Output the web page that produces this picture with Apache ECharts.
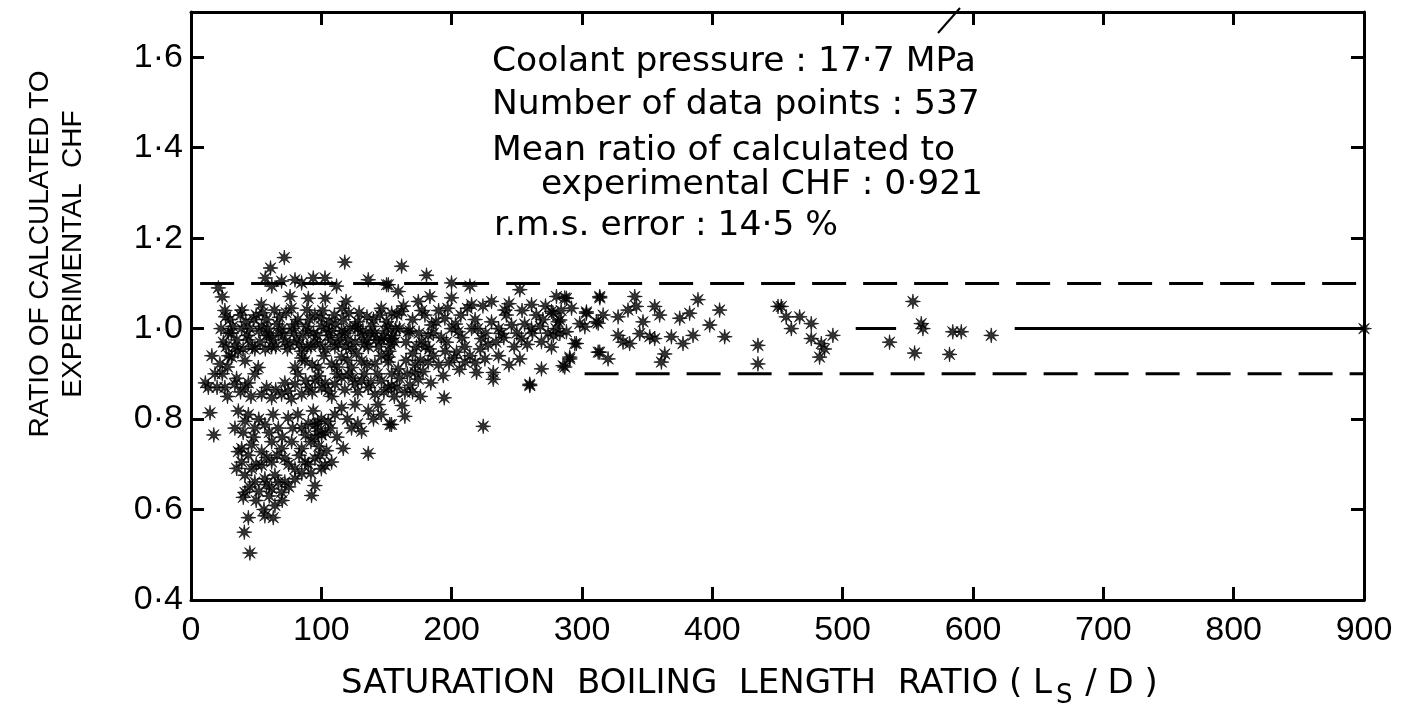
<!DOCTYPE html>
<html>
<head>
<meta charset="utf-8">
<script src="https://cdn.jsdelivr.net/npm/echarts@6/dist/echarts.min.js"></script>
<style>html,body{margin:0;padding:0;background:#fff;}#c{width:1405px;height:711px;}</style>
</head>
<body>
<div id="c"></div>
<script>
// ---- data (Ls/D, ratio calculated/experimental CHF) ----
const xTicks = [0,100,200,300,400,500,600,700,800,900];
const yTicks = [0.4,0.6,0.8,1.0,1.2,1.4,1.6];

const topEdgePoints = [[71.6,1.157],[61,1.134],[118,1.147],[21,1.09],[24,1.07],[57,1.112],[62,1.094],[69.5,1.105],[79.8,1.108],[84.9,1.101],[93.8,1.112],[102.8,1.112],[111.7,1.094],[136,1.108],[150,1.097],[103,1.067],[76,1.071],[90,1.067],[119,1.06],[26.6,1.026],[39,1.041],[54,1.053],[64,1.041],[77,1.045],[89,1.041],[100,1.023],[110,1.03],[121,1.034],[135,1.026],[146,1.045],[154,1.034]];

const bandPoints = [[24.8,0.97],[28.6,0.99],[33.7,0.96],[38.9,1.0],[44,0.975],[49,0.955],[54.2,1.005],[58,0.985],[61.9,0.96],[67,0.99],[72,0.97],[77.2,1.0],[81,0.975],[84.9,0.95],[90,0.995],[95.1,0.97],[100.2,1.005],[105.3,0.985],[110.4,0.96],[115.5,0.995],[120.6,0.975],[125.8,1.005],[130.9,0.985],[136,0.96],[141.1,0.99],[146.2,0.975],[151.3,1.005],[155.2,0.985],
[27,0.96],[31,0.99],[36,0.95],[43,0.985],[47,0.96],[52,0.995],[57,0.955],[60,0.985],[65,0.96],[70,1.0],[74,0.955],[79,0.99],[83,0.965],[88,1.005],[92,0.96],[97,0.985],[103,0.955],[108,0.995],[113,0.965],[118,0.99],[123,0.955],[128,1.0],[133,0.965],[138,0.99],[144,0.96],[149,0.995],[153,0.965],[157,1.0],
[30,1.02],[42,1.015],[50,1.03],[58,1.02],[68,1.025],[82,1.02],[95,1.03],[106,1.015],[117,1.02],[128,1.015],[140,1.02],[150,1.015],[158,1.03],
[23,1.0],[26,1.04],[29,0.94],[32,1.005],[35,0.975],[38,1.03],[40,0.955],[45,1.0],[48,1.02],[53,0.97],[55,1.035],[59,1.0],[63,0.975],[66,1.01],[71,0.985],[73,1.035],[76,0.965],[80,1.01],[86,0.985],[89,0.96],[91,1.02],[94,0.99],[99,0.965],[101,1.04],[104,1.0],[107,0.975],[111,1.01],[114,0.98],[116,1.045],[119,0.96],[122,1.0],[126,0.97],[129,1.035],[132,0.995],[135,0.975],[139,1.005],[142,0.975],[145,1.03],[148,0.98],[152,0.95],[156,0.97]];

const midPoints = [[22.2,0.922],[18.4,0.9],[13.3,0.87],[26,0.87],[33.7,0.877],[41.4,0.87],[49,0.9],[54.2,0.855],[61.9,0.847],[69.5,0.855],[74.6,0.862],[79.8,0.877],[84.9,0.855],[90,0.87],[95.1,0.885],[100.2,0.87],[105.3,0.862],[110.4,0.877],[115.5,0.892],[120.6,0.9],[125.8,0.877],[130.9,0.885],[136,0.87],[141.1,0.855],[146.2,0.885],[151.3,0.87],[79.8,0.914],[87.4,0.929],[97.6,0.914],[107.9,0.922],[115.5,0.937],[123.2,0.914],[130.9,0.929],[141.1,0.922],[151.3,0.937],[31.2,0.937],[41.4,0.929],[51.6,0.914],[11,0.88],[16,0.94],[20,0.87],[28,0.85],
[24,0.9],[28,0.915],[35,0.89],[38,0.86],[44,0.88],[46,0.85],[58,0.87],[65,0.865],[72,0.88],[77,0.845],[82,0.9],[88,0.885],[93,0.86],[98,0.895],[103,0.88],[108,0.85],[112,0.9],[118,0.865],[124,0.89],[128,0.86],[133,0.9],[138,0.88],[143,0.9],[148,0.86],[154,0.9],[85,0.935],[93,0.92],[102,0.94],[112,0.915],[120,0.93],[127,0.945],[135,0.92],[146,0.94]];

const lowPoints = [[14.6,0.814],[17.5,0.765],[36.3,0.818],[33.7,0.78],[41.4,0.795],[49,0.78],[56.7,0.788],[67,0.78],[74.6,0.803],[84.9,0.78],[93.8,0.818],[95.1,0.788],[100.2,0.765],[105.3,0.795],[110.4,0.81],[115.5,0.825],[123.2,0.78],[130.9,0.773],[125.8,0.832],[136,0.818],[143.6,0.832],[152.6,0.788],[116.8,0.735],[136,0.724],
[38.9,0.735],[46.5,0.743],[54.2,0.728],[61.9,0.75],[69.5,0.735],[77.2,0.75],[84.9,0.735],[38.9,0.705],[46.5,0.69],[54.2,0.698],[61.9,0.705],[72,0.713],[79.8,0.69],[87.4,0.705],[95.1,0.713],[102.8,0.698],[107.9,0.705],[41.4,0.676],[49,0.661],[56.7,0.668],[64.4,0.676],[72,0.661],[79.8,0.668],[41.4,0.638],[40.1,0.627],[61.9,0.646],[69.5,0.638],[95.1,0.653],[92.5,0.631],[64.4,0.609],[44,0.582],[56.7,0.586],[63.1,0.582],[40.9,0.55],[45.2,0.504],[97.6,0.773],[36.3,0.728],[35,0.691],[95,0.76],[98,0.74],[100,0.8],[103,0.77],[97,0.79],[92,0.75],
[40,0.77],[44,0.81],[48,0.76],[52,0.8],[60,0.77],[63,0.81],[70,0.76],[78,0.78],[82,0.81],[88,0.765],[90,0.79],[107,0.78],[112,0.76],[120,0.8],[128,0.79],[140,0.8],[146,0.81],[44,0.72],[50,0.7],[58,0.715],[66,0.72],[75,0.7],[83,0.72],[90,0.7],[99,0.72],[104,0.73],[45,0.65],[52,0.64],[58,0.655],[67,0.66],[75,0.65],[85,0.68],[92,0.68],[100,0.69],[50,0.62],[56,0.6],[60,0.63],[70,0.62]];

const centrePoints = [[161.6,1.138],[180.7,1.118],[199.9,1.101],[214,1.094],[252.3,1.086],[286.8,1.068],[313.7,1.068],[151.4,1.097],[159,1.082],[174.4,1.06],[183.3,1.071],[161.6,1.038],[179.5,1.03],[199.9,1.068],[215.3,1.053],[230.6,1.06],[240.8,1.041],[261.3,1.053],[276.6,1.038],[292,1.045],[303.4,1.034],[312.4,1.012],
[153.9,0.978],[166.7,0.993],[176.9,0.971],[184.6,1.008],[194.8,1.023],[205,0.993],[215.3,1.0],[222.9,0.978],[230.6,1.015],[238.3,0.989],[245.9,1.008],[253.6,0.978],[261.3,1.0],[268.9,0.971],[281.7,1.015],[288.1,0.993],[294.5,0.967],[302.2,1.004],[312.4,0.948],
[151.4,0.926],[159,0.911],[171.8,0.903],[153.9,0.874],[164.1,0.859],[174.4,0.888],[182,0.926],[193.5,0.896],[203.8,0.948],[210.1,0.926],[219.1,0.903],[225.5,0.933],[231.9,0.903],[231.9,0.888],[252.3,0.933],[268.9,0.911],[276.6,0.959],[286.8,0.915],[290.7,0.933],[194.3,0.847],[153.9,0.788],[164.1,0.806],[224.2,0.784],[260,0.874],
[160,1.0],[165,0.97],[170,1.02],[175,0.99],[180,0.96],[186,0.99],[190,1.04],[196,0.97],[200,1.0],[207,1.03],[210,0.96],[218,1.02],[226,0.99],[234,0.97],[242,1.03],[248,0.96],[256,1.01],[262,0.99],[270,1.02],[274,0.99],[280,1.0],[165,0.93],[172,0.92],[186,0.94],[198,0.925],[206,0.91],[214,0.94],[160,0.89],[168,0.875],[178,0.905],[156,0.85],[162,0.83],
[163,1.05],[168,0.995],[173,0.96],[177,1.04],[182,0.985],[188,1.015],[192,0.98],[197,1.045],[203,1.01],[208,0.98],[212,1.045],[220,1.0],[224,1.05],[228,0.965],[236,1.0],[240,0.98],[244,1.055],[250,0.99],[254,1.04],[258,0.965],[265,1.03],[268,1.005],[272,1.05],[278,0.985],[284,1.04],[170,0.945],[176,0.93],[183,0.955],[190,0.92],[195,0.95],[202,0.935],[218,0.925],[222,0.955],[236,0.94],[244,0.92],[158,0.87],[170,0.86],[176,0.85],[184,0.88],[166,0.9]];

const outerPoints = [[280.4,1.071],[288.1,1.067],[313.6,1.071],[340.5,1.071],[389,1.064],[405.6,1.041],[450.4,1.049],[277.8,1.034],[283,1.019],[298.3,1.011],[303.4,1.037],[311.1,1.015],[316.2,1.03],[327.7,1.026],[335.3,1.041],[341.7,1.049],[346.8,1.015],[355.8,1.049],[359.6,1.03],[375,1.023],[382.6,1.034],[398,1.008],[327.7,0.985],[331.5,0.97],[336.6,0.967],[344.3,0.989],[352,0.982],[355.8,0.978],[368.6,0.982],[377.5,0.967],[385.2,0.985],[409.5,0.982],[435,0.963],[283,0.989],[295.7,0.967],[290.6,0.937],[285.5,0.918],[313.6,0.948],[320,0.933],[363.5,0.944],[360.9,0.926],[435,0.922],[259.9,0.877]];

const tailPoints = [[452.9,1.049],[456.7,1.026],[467,1.026],[475.9,1.011],[460.6,1.0],[475.9,0.978],[483.6,0.967],[486.1,0.955],[482.3,0.937],[492.5,0.985],[536,0.97],[553.9,1.06],[560.3,1.011],[561.6,1.0],[555.2,0.946],[582,0.943],[584.5,0.993],[591,0.993],[614,0.985],[900,1.0]];

// reference lines
const upperBand = [[7,1.1],[900,1.1]];
const lowerBand = [[302,0.9],[900,0.9]];
const unityDash = [[510,1.0],[541,1.0]];
const unityLine = [[632,1.0],[900,1.0]];

const annotationLines = [
  'Coolant pressure : 17·7 MPa',
  'Number of data points : 537',
  'Mean ratio of calculated to',
  'experimental CHF : 0·921',
  'r.m.s. error : 14·5 %'
];

// ---- drawing ----
function asteriskPath(){
  let p = 'path://';
  const n = 16;
  for (let i = 0; i < n; i++) {
    const a = -Math.PI/2 + i*Math.PI/8;
    const r = (i % 2 === 0) ? 10 : 3.2;
    const x = (10 + r*Math.cos(a)).toFixed(2), y = (10 + r*Math.sin(a)).toFixed(2);
    p += (i === 0 ? 'M' : 'L') + x + ' ' + y + ' ';
  }
  return p + 'Z';
}
const FONT = '"DejaVu Sans", "Liberation Sans", sans-serif';
const FONT2 = '"Liberation Sans", Arial, sans-serif';
const allPoints = [].concat(topEdgePoints, bandPoints, midPoints, lowPoints, centrePoints, outerPoints, tailPoints);

const chart = echarts.init(document.getElementById('c'), null, {renderer:'canvas'});
function axisLine(){ return {show:true, onZero:false, lineStyle:{color:'#000', width:3}}; }
function tick(){ return {show:true, inside:true, length:13, lineStyle:{color:'#000', width:3}}; }
function refLine(data, dashed){
  return {type:'line', data:data, symbol:'none', silent:true, z:1,
    lineStyle:{color:'#000', width:3, type: dashed ? [34,17] : 'solid'}};
}
const annY = [62, 105, 151, 185, 226];
const annX = [492, 492, 492, 541, 494];
chart.setOption({
  animation:false,
  backgroundColor:'#fff',
  grid:{left:191, right:41, top:12, bottom:111},
  xAxis:[{type:'value', min:0, max:900, interval:100, position:'bottom',
      axisLine:axisLine(), axisTick:tick(), splitLine:{show:false},
      axisLabel:{color:'#000', fontSize:34, fontFamily:FONT2, margin:14}},
    {type:'value', min:0, max:900, interval:100, position:'top',
      axisLine:axisLine(), axisTick:tick(), splitLine:{show:false}, axisLabel:{show:false}}],
  yAxis:[{type:'value', min:0.4, max:1.7, interval:0.2, position:'left',
      axisLine:axisLine(), axisTick:tick(), splitLine:{show:false},
      axisLabel:{color:'#000', fontSize:34, fontFamily:FONT2, margin:8, showMaxLabel:false,
        formatter: v => yTicks.some(t => Math.abs(t - v) < 1e-6) ? v.toFixed(1).replace('.', '·') : ''}},
    {type:'value', min:0.4, max:1.7, interval:0.2, position:'right',
      axisLine:axisLine(), axisTick:tick(), splitLine:{show:false}, axisLabel:{show:false}}],
  series:[
    refLine(upperBand, true), refLine(lowerBand, true),
    refLine(unityDash, false), refLine(unityLine, false),
    {type:'scatter', data:allPoints, symbol:asteriskPath(), symbolSize:15,
     itemStyle:{color:'#000', borderColor:'#000', borderWidth:0.8}, z:3, silent:true}
  ],
  graphic:[
    ...annotationLines.map((t,i) => ({type:'text', x:annX[i], y:annY[i],
      style:{text:t, font:'34.5px ' + FONT, fill:'#000', verticalAlign:'middle', textVerticalAlign:'middle'}})),
    {type:'text', x:40, y:254, rotation:Math.PI/2,
      style:{text:'RATIO OF CALCULATED TO', font:'28px ' + FONT2, fill:'#000', align:'center', verticalAlign:'middle', textAlign:'center', textVerticalAlign:'middle'}},
    {type:'text', x:73, y:254, rotation:Math.PI/2,
      style:{text:'EXPERIMENTAL  CHF', font:'28px ' + FONT2, fill:'#000', align:'center', verticalAlign:'middle', textAlign:'center', textVerticalAlign:'middle'}},
    {type:'text', left:341, top:667,
      style:{text:'SATURATION  BOILING  LENGTH  RATIO ( L{s|S} / D )', font:'34px ' + FONT, fill:'#000',
        rich:{s:{font:'26px ' + FONT, fill:'#000', padding:[24,2,0,4]}}}},
    {type:'line', shape:{x1:938, y1:33, x2:960, y2:8}, style:{stroke:'#000', lineWidth:2}}
  ]
});
</script>
</body>
</html>
